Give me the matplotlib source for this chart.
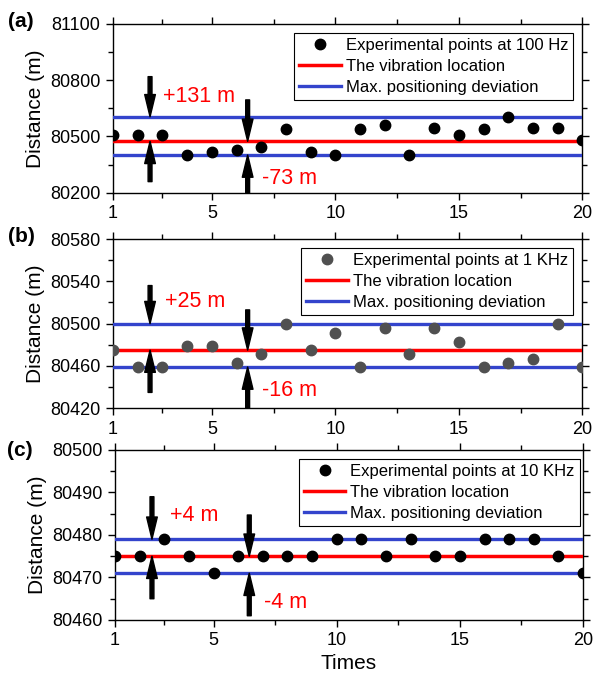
import matplotlib.pyplot as plt
import numpy as np

plt.rcParams['font.family'] = ['Liberation Sans', 'DejaVu Sans']

times = np.arange(1, 21)

# panel (a): 100 Hz
dist_100hz = [80506, 80506, 80506, 80401, 80415, 80428, 80442, 80538, 80415, 80401,
              80538, 80561, 80401, 80545, 80509, 80538, 80605, 80547, 80547, 80481]
loc_100hz = 80474
dev_100hz = (80605, 80401)

# panel (b): 1 KHz
dist_1khz = [80475, 80459, 80459, 80479, 80479, 80463, 80471, 80500, 80475, 80491,
             80459, 80496, 80471, 80496, 80483, 80459, 80463, 80467, 80500, 80459]
loc_1khz = 80475
dev_1khz = (80500, 80459)

# panel (c): 10 KHz
dist_10khz = [80475, 80475, 80479, 80475, 80471, 80475, 80475, 80475, 80475, 80479,
              80479, 80475, 80479, 80475, 80475, 80479, 80479, 80479, 80475, 80471]
loc_10khz = 80475
dev_10khz = (80479, 80471)

panels = [
    dict(tag="(a)", y=dist_100hz, loc=loc_100hz, dev=dev_100hz, c="black",
         label="Experimental points at 100 Hz", ylim=(80200, 81100), step=300,
         plus="+131 m", minus="-73 m",
         arr_left=(80819, 80259), arr_right=(80695, 80200),
         txt_plus=(3.04, 80712), txt_minus=(7.03, 80278), leg=(0.980, 0.945)),
    dict(tag="(b)", y=dist_1khz, loc=loc_1khz, dev=dev_1khz, c="#505050",
         label="Experimental points at 1 KHz", ylim=(80420, 80580), step=40,
         plus="+25 m", minus="-16 m",
         arr_left=(80536, 80435), arr_right=(80513, 80420),
         txt_plus=(3.12, 80521), txt_minus=(7.03, 80437), leg=(0.980, 0.945)),
    dict(tag="(c)", y=dist_10khz, loc=loc_10khz, dev=dev_10khz, c="black",
         label="Experimental points at 10 KHz", ylim=(80460, 80500), step=10,
         plus="+4 m", minus="-4 m",
         arr_left=(80489, 80465), arr_right=(80484.7, 80461),
         txt_plus=(3.24, 80484.7), txt_minus=(7.04, 80464), leg=(0.993, 0.945)),
]

red = "#ff0000"
blue = "#3344cc"

fig = plt.figure(figsize=(5.95, 6.79), dpi=100)
boxes = [[0.1899, 0.7162, 0.789, 0.2485],
         [0.1899, 0.3987, 0.789, 0.2493],
         [0.1933, 0.0869, 0.7866, 0.2504]]
tag_pos = [(0.013, 0.9676), (0.013, 0.651), (0.011, 0.337)]

arrow_kw = dict(facecolor="black", edgecolor="black", width=2.8,
                headwidth=7.7, headlength=16, shrink=0)

for i, (p, box) in enumerate(zip(panels, boxes)):
    ax = fig.add_axes(box)
    ax.plot(times, p["y"], "o", color=p["c"], ms=7.5, label=p["label"], zorder=4)
    ax.axhline(p["loc"], color=red, lw=2.5, label="The vibration location", zorder=3)
    ax.axhline(p["dev"][0], color=blue, lw=2.4, label="Max. positioning deviation", zorder=3)
    ax.axhline(p["dev"][1], color=blue, lw=2.4, zorder=3)

    ax.set_xlim(1, 20)
    ax.set_ylim(*p["ylim"])
    ax.set_xticks([1, 5, 10, 15, 20])
    ax.set_xticks([3, 7.5, 12.5, 17.5], minor=True)
    lo, hi = p["ylim"]
    ax.set_yticks(np.arange(lo, hi + 1, p["step"]))
    ax.set_yticks(np.arange(lo + p["step"] / 2, hi, p["step"]), minor=True)
    ax.tick_params(which="both", direction="out", top=True, right=True,
                   labelsize=13, width=1)
    ax.tick_params(which="major", length=5, pad=4)
    ax.tick_params(which="minor", length=3.5)
    for s in ax.spines.values():
        s.set_linewidth(1)
    ax.set_ylabel("Distance (m)", fontsize=15, labelpad=4)

    # arrows marking the deviation
    ax.annotate("", xy=(2.5, p["dev"][0]), xytext=(2.5, p["arr_left"][0]),
                arrowprops=arrow_kw, annotation_clip=False)
    ax.annotate("", xy=(2.5, p["loc"]), xytext=(2.5, p["arr_left"][1]),
                arrowprops=arrow_kw, annotation_clip=False)
    ax.annotate("", xy=(6.45, p["loc"]), xytext=(6.45, p["arr_right"][0]),
                arrowprops=arrow_kw, annotation_clip=False)
    ax.annotate("", xy=(6.45, p["dev"][1]), xytext=(6.45, p["arr_right"][1]),
                arrowprops=arrow_kw, annotation_clip=False)
    ax.text(*p["txt_plus"], p["plus"], color=red, fontsize=15.5, va="center", ha="left")
    ax.text(*p["txt_minus"], p["minus"], color=red, fontsize=15.5, va="center", ha="left")

    leg = ax.legend(loc="upper right", bbox_to_anchor=p["leg"], fontsize=12,
                    fancybox=False, framealpha=1, edgecolor="black",
                    borderaxespad=0, handlelength=2.5, labelspacing=0.35,
                    borderpad=0.3, handletextpad=0.3)
    leg.get_frame().set_linewidth(0.8)

    fig.text(*tag_pos[i], p["tag"], fontsize=15, fontweight="bold", va="center")

    if i == 2:
        ax.set_xlabel("Times", fontsize=15, labelpad=3)

fig.savefig("out.png", dpi=100)
